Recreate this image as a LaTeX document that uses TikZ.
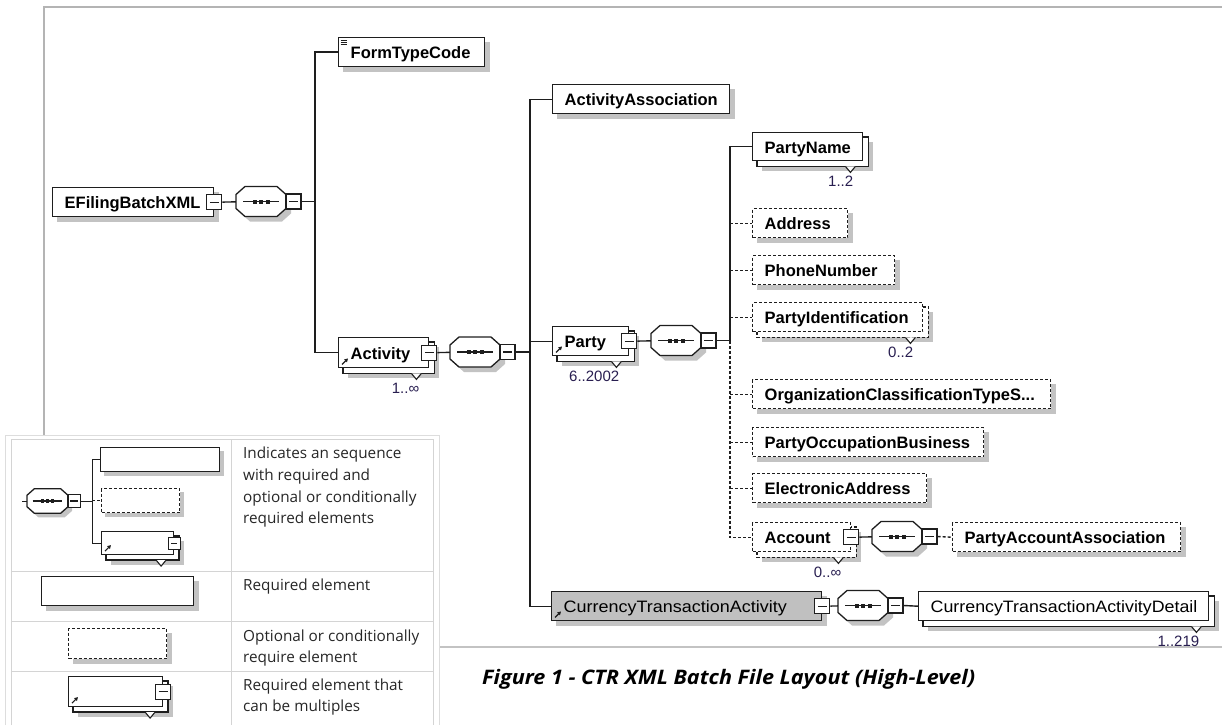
\documentclass[tikz,border=0pt]{standalone}
\usepackage{fontspec}
\setmainfont{Liberation Sans}
\newfontfamily\legfont{Open Sans}
\usetikzlibrary{arrows.meta,calc}
\pgfdeclarelayer{shadowl}
\pgfdeclarelayer{backl}
\pgfsetlayers{shadowl,backl,main}
\definecolor{shd}{RGB}{195,195,195}
\definecolor{ln}{RGB}{30,30,30}
\definecolor{multc}{RGB}{40,30,80}
\definecolor{ctafill}{RGB}{192,192,192}
\definecolor{framec}{RGB}{180,180,180}
\definecolor{tabc}{RGB}{212,212,212}
\tikzset{
  ebox/.style={draw=ln, fill=white, line width=1.4pt, minimum height=29pt, inner xsep=12pt, inner ysep=0pt,
    text height=13pt, text depth=0pt, align=left, anchor=north west,
    font=\fontsize{16.5}{18}\selectfont\bfseries, text width=#1},
  obox/.style={ebox=#1, dash pattern=on 3pt off 2pt},
  lbox/.style={draw=ln, fill=white, line width=1.1pt, anchor=north west, inner sep=0pt, minimum width=#1},
  conn/.style={draw=ln, line width=1.4pt},
  dconn/.style={conn, dash pattern=on 3pt off 2pt},
  minusbox/.style={draw=ln, fill=white, line width=1.1pt, minimum size=15pt, inner sep=0pt,
    path picture={\draw[ln, line width=1.1pt] ([xshift=3pt]path picture bounding box.west) -- ([xshift=-3pt]path picture bounding box.east);}},
  mult/.style={font=\fontsize{15}{16}\selectfont, text=multc, inner sep=0pt, anchor=base east},
  legtext/.style={font=\legfont\fontsize{15.3}{18}\selectfont, inner sep=0pt, anchor=base west, text=black!85},
}
\newcommand{\eshadow}[2]{%
  \begin{pgfonlayer}{shadowl}\fill[shd] ($(#1.north west)+(#2,#2)$) rectangle ($(#1.south east)+(#2,#2)$);\end{pgfonlayer}}
\newcommand{\estack}[2][]{%
  \begin{pgfonlayer}{backl}
  \draw[ln, line width=1.3pt, fill=white, #1] ($(#2.north west)+(5,5)$) rectangle ($(#2.south east)+(5,5)$);
  \draw[ln, line width=1.1pt, fill=white] ($(#2.south east)+(-18,5)$) -- ++(5,6) -- ++(5,-6);
  \end{pgfonlayer}
  \eshadow{#2}{10}}
\newcommand{\refarrow}[1]{%
  \draw[ln, line width=1.2pt, -{Triangle[length=3.5pt,width=3.8pt]}] ($(#1.south west)+(4,-4)$) -- ++(6,-6);}
\newcommand{\seqsym}[4]{%
  \begin{scope}[shift={(#2,#3)}, scale=#4, transform shape]
  \begin{pgfonlayer}{shadowl}
  \fill[shd] (5,-2) -- (14,-10) -- (46,-10) -- (55,-2) -- (55,12) -- (46,20) -- (14,20) -- (5,12) -- cycle;
  \end{pgfonlayer}
  \node[draw=none, inner sep=0pt, minimum width=50pt, minimum height=30pt] (#1) at (25,0) {};
  \draw[ln, line width=1.3pt, fill=white] (0,-7) -- (9,-15) -- (41,-15) -- (50,-7) -- (50,7) -- (41,15) -- (9,15) -- (0,7) -- cycle;
  \draw[ln, line width=1.3pt] (7,0) -- (43,0);
  \foreach \dx in {18.5,25,31.5} \fill[ln] (\dx-2,-2) rectangle (\dx+2,2);
  \node[minusbox] (#1m) at (57.5,0) {};
  \end{scope}}

\begin{document}
\begin{tikzpicture}[x=1pt,y=-1pt]
\useasboundingbox (0,0) rectangle (1222,725);
% frame
\draw[framec, line width=1.5pt] (44,435) -- (44,7) -- (1222,7);
\draw[framec!80, line width=1.5pt] (439,647) -- (1222,647);

% trunk coordinates
\coordinate (t1) at (315,0);
\coordinate (t2) at (530,0);
\coordinate (t3) at (730,0);

% root
\node[ebox=137pt] (ef) at (52,187) {EFilingBatchXML};
\eshadow{ef}{5}
\node[minusbox] (efm) at (ef.east) {};
\seqsym{s0}{236}{201.5}{1}
\draw[conn] (efm) -- (s0);
\draw[conn] (s0m.east) -- (s0m.east -| t1);

% FormTypeCode
\node[ebox=122pt] (ftc) at (338,37) {FormTypeCode};
\eshadow{ftc}{5}
\draw[ln, line width=0.7pt] (340.5,40) -- ++(6,0) (340.5,42.2) -- ++(6,0) (340.5,44.4) -- ++(6,0);

% Activity
\node[ebox=66pt, minimum height=30pt] (act) at (338,337) {Activity};
\estack{act}
\node[minusbox] (actm) at (act.east) {};
\refarrow{act}
\node[mult] (actmult) at ($(act.south east)+(-10,25)$) {1..∞};
\draw[conn] (ftc.west) -- (ftc.west -| t1) -- (act.west -| t1) -- (act.west);
\seqsym{s1}{450}{352}{1}
\draw[conn] (actm) -- (s1);
\draw[conn] (s1m.east) -- (s1m.east -| t2);

% level 2
\node[ebox=153pt] (aa) at (552,84) {ActivityAssociation};
\eshadow{aa}{5}
\node[ebox=52pt] (party) at (552,326) {Party};
\estack{party}
\node[minusbox] (partym) at (party.east) {};
\refarrow{party}
\node[mult] (partymult) at ($(party.south east)+(-10,25)$) {6..2002};
\node[ebox=246pt, fill=ctafill, font=\fontsize{16.5}{18}\selectfont] (cta) at (551,591) {\scalebox{1.09}[1]{CurrencyTransactionActivity}};
\eshadow{cta}{5}
\node[minusbox] (ctam) at (cta.east) {};
\refarrow{cta}
\draw[conn] (aa.west) -- (aa.west -| t2) -- (cta.west -| t2) -- (cta.west);
\draw[conn] (party.west -| t2) -- (party.west);

\seqsym{s2}{651}{340.5}{1}
\draw[conn] (partym) -- (s2);

% Party children
\node[ebox=86pt, minimum height=28pt] (pn) at (752,132) {PartyName};
\estack{pn}
\node[mult] (pnmult) at ($(pn.south east)+(-10,25)$) {1..2};
\node[obox=71pt] (addr) at (752,208) {Address};
\eshadow{addr}{5}
\node[obox=118pt] (phone) at (752,255) {PhoneNumber};
\eshadow{phone}{5}
\node[obox=146pt] (pid) at (752,302) {PartyIdentification};
\estack[dash pattern=on 3pt off 2pt]{pid}
\node[mult] (pidmult) at ($(pid.south east)+(-10,25)$) {0..2};
\node[obox=274pt] (org) at (752,379) {OrganizationClassificationTypeS...};
\eshadow{org}{5}
\node[obox=207pt] (pob) at (752,427) {PartyOccupationBusiness};
\eshadow{pob}{5}
\node[obox=150pt] (ea) at (752,473) {ElectronicAddress};
\eshadow{ea}{5}
\node[obox=74pt] (acc) at (752,522) {Account};
\estack[dash pattern=on 3pt off 2pt]{acc}
\node[minusbox] (accm) at (acc.east) {};
\node[mult] (accmult) at ($(acc.south east)+(-10,25)$) {0..∞};

\draw[conn] (s2m.east) -- (s2m.east -| t3);
\draw[conn] (pn.west) -- (pn.west -| t3) -- (s2m.east -| t3);
\draw[dconn] (s2m.east -| t3) -- (acc.west -| t3) -- (acc.west);
\draw[dconn] (addr.west -| t3) -- (addr.west);
\draw[dconn] (phone.west -| t3) -- (phone.west);
\draw[dconn] (pid.west -| t3) -- (pid.west);
\draw[dconn] (org.west -| t3) -- (org.west);
\draw[dconn] (pob.west -| t3) -- (pob.west);
\draw[dconn] (ea.west -| t3) -- (ea.west);

% Account sequence
\seqsym{s3}{872}{536.5}{1}
\draw[conn] (accm) -- (s3);
\node[obox=204pt] (paa) at (952,522) {PartyAccountAssociation};
\eshadow{paa}{5}
\draw[dconn] (s3m.east) -- (paa.west);

% CTA sequence
\seqsym{s4}{838}{605.5}{1}
\draw[conn] (ctam) -- (s4);
\node[ebox=266pt, font=\fontsize{16.5}{18}\selectfont] (ctad) at (918,591) {\scalebox{1.08}[1]{CurrencyTransactionActivityDetail}};
\estack{ctad}
\node[mult] (ctadmult) at ($(ctad.south east)+(-10,25)$) {1..219};
\draw[conn] (s4m.east) -- (ctad.west);

% caption
\node[anchor=base west, inner sep=0pt, font=\legfont\bfseries\itshape\fontsize{20}{22}\selectfont] (cap) at (482,684) {\scalebox{1.08}[1]{Figure 1 - CTR XML Batch File Layout (High-Level)}};

% legend table
\draw[tabc!80, line width=1pt] (5,725) -- (5,435) -- (439,435) -- (439,725);
\draw[tabc, line width=1pt] (11,725) -- (11,439) -- (433,439) -- (433,725)
  (231,439) -- (231,725) (11,571) -- (433,571) (11,621) -- (433,621) (11,671) -- (433,671);

% legend row 1
\coordinate (lstub) at (22,501);
\coordinate (lt) at (92,0);
\seqsym{ls}{27}{501}{0.82}
\draw[conn, line width=1pt] (lstub) -- (ls);
\node[lbox=119pt, minimum height=24pt] (l1) at (100,447) {};
\eshadow{l1}{4}
\node[lbox=78pt, minimum height=24pt, dash pattern=on 3pt off 2pt] (l2) at (101,488) {};
\eshadow{l2}{4}
\node[lbox=72pt, minimum height=23pt] (l3) at (101,531) {};
\estack{l3}
\node[minusbox, minimum size=12pt] (l3m) at (l3.east) {};
\refarrow{l3}
\draw[conn, line width=1pt] (lsm.east) -- (lsm.east -| lt);
\draw[conn, line width=1pt] (l1.west) -- (l1.west -| lt) -- (l3.west -| lt) -- (l3.west);
\draw[dconn, line width=1pt] (l2.west -| lt) -- (l2.west);

% legend rows 2-4
\node[lbox=152pt, minimum height=29pt] (l4) at (41,576) {};
\eshadow{l4}{5}
\node[lbox=98pt, minimum height=30pt, dash pattern=on 3pt off 2pt] (l5) at (68,628) {};
\eshadow{l5}{5}
\node[lbox=94pt, minimum height=30pt] (l6) at (68,676) {};
\estack{l6}
\node[minusbox] (l6m) at (l6.east) {};
\refarrow{l6}

% legend texts
\node[legtext] (lt1) at (243,458) {Indicates an sequence};
\node[legtext] (lt2) at (243,480) {with required and};
\node[legtext] (lt3) at (243,502) {optional or conditionally};
\node[legtext] (lt4) at (243,523) {required elements};
\node[legtext] (lt5) at (243,590) {Required element};
\node[legtext] (lt6) at (243,641) {Optional or conditionally};
\node[legtext] (lt7) at (243,662) {require element};
\node[legtext] (lt8) at (243,690) {Required element that};
\node[legtext] (lt9) at (243,711) {can be multiples};
\end{tikzpicture}
\end{document}
